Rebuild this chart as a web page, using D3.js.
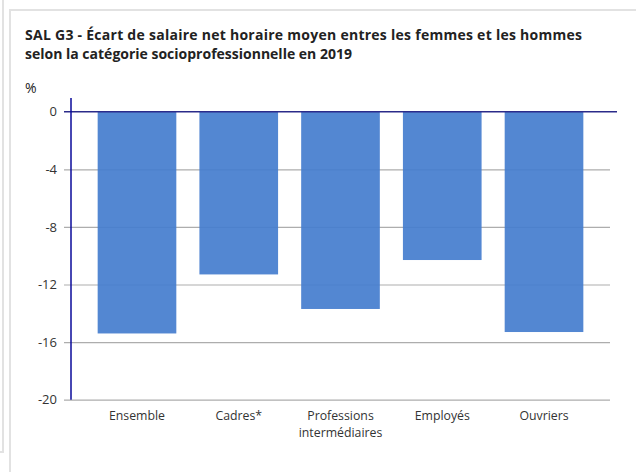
<!DOCTYPE html>
<html><head><meta charset="utf-8">
<script src="https://cdn.jsdelivr.net/npm/d3@7"></script>
<style>
html,body{margin:0;padding:0;background:#fff;}
svg{display:block;font-family:"Open Sans",sans-serif;}
</style></head>
<body>
<svg id="c" width="636" height="472"></svg>
<script>
const categories = ["Ensemble", "Cadres*", "Professions\nintermédiaires", "Employés", "Ouvriers"];
const values = [-15.4, -11.3, -13.7, -10.3, -15.3];
const yTicks = [0, -4, -8, -12, -16, -20];
const titleLines = ["SAL G3 - Écart de salaire net horaire moyen entres les femmes et les hommes",
                    "selon la catégorie socioprofessionnelle en 2019"];
const unitLabel = "%";

const svg = d3.select("#c");

// frame
svg.append("line").attr("x1",3).attr("x2",3).attr("y1",0).attr("y2",452).attr("stroke","#e2e2e2").attr("stroke-width",2);
svg.append("line").attr("x1",0).attr("x2",4).attr("y1",452).attr("y2",452).attr("stroke","#e2e2e2").attr("stroke-width",2);
svg.append("line").attr("x1",10).attr("x2",10).attr("y1",9).attr("y2",472).attr("stroke","#e2e2e2").attr("stroke-width",2);
svg.append("line").attr("x1",9).attr("x2",636).attr("y1",10).attr("y2",10).attr("stroke","#e2e2e2").attr("stroke-width",2);

// title
const title = svg.append("text").attr("x",25).attr("y",40).attr("font-size",14).attr("font-weight","bold").attr("fill","#222");
title.selectAll("tspan").data(titleLines).join("tspan").attr("x",25).attr("dy",(d,i)=> i? 18.5 : 0).text(d=>d);
title.select("tspan").attr("textLength", 557).attr("lengthAdjust","spacing");

svg.append("text").attr("x",25).attr("y",93).attr("font-size",14).attr("fill","#222").text(unitLabel);

const y = d3.scaleLinear().domain([-20, 0]).range([399.7, 111.7]);
const x = d3.scaleBand().domain(categories).range([71, 610]).paddingInner(0.227).paddingOuter(0.262);

// gridlines
const gy = svg.append("g").attr("transform","translate(64,0)")
  .call(d3.axisRight(y).tickValues(yTicks.filter(d=>d!==0)).tickSize(610-64).tickFormat(""));
gy.select(".domain").remove();
gy.selectAll(".tick line").attr("stroke","#adadad").attr("stroke-width",1.2);

// tick labels
const gl = svg.append("g").attr("transform","translate(71,0)")
  .call(d3.axisLeft(y).tickValues(yTicks).tickSize(0).tickPadding(14).tickFormat(d=>String(d)));
gl.select(".domain").remove();
gl.selectAll("text").attr("font-family","'Open Sans',sans-serif").attr("font-size",13).attr("fill","#333");

// bars
svg.append("g").selectAll("rect").data(categories).join("rect")
  .attr("x", d=>x(d)).attr("width", x.bandwidth())
  .attr("y", y(0)).attr("height", (d,i)=> y(values[i]) - y(0))
  .attr("fill","rgb(68,125,206)").attr("fill-opacity",0.92);

// zero line and y axis
svg.append("line").attr("x1",64).attr("x2",617).attr("y1",y(0)).attr("y2",y(0)).attr("stroke","#2b2b8a").attr("stroke-width",1.6);
svg.append("line").attr("x1",71).attr("x2",71).attr("y1",98).attr("y2",y(-20)).attr("stroke","#0a0a9a").attr("stroke-width",1.5);

// category labels
const gx = svg.append("g").attr("transform",`translate(0,${y(-20)})`)
  .call(d3.axisBottom(x).tickSize(0).tickPadding(0).tickFormat(""));
gx.select(".domain").remove();
gx.selectAll(".tick").append("text").attr("text-anchor","middle").attr("font-size",12.3).attr("fill","#333")
  .attr("font-family","'Open Sans',sans-serif")
  .each(function(d){
    const lines = d.split("\n");
    d3.select(this).selectAll("tspan").data(lines).join("tspan")
      .attr("x",0).attr("y",(l,i)=> 20.5 + i*16.9).text(l=>l);
  });
</script>
</body></html>
